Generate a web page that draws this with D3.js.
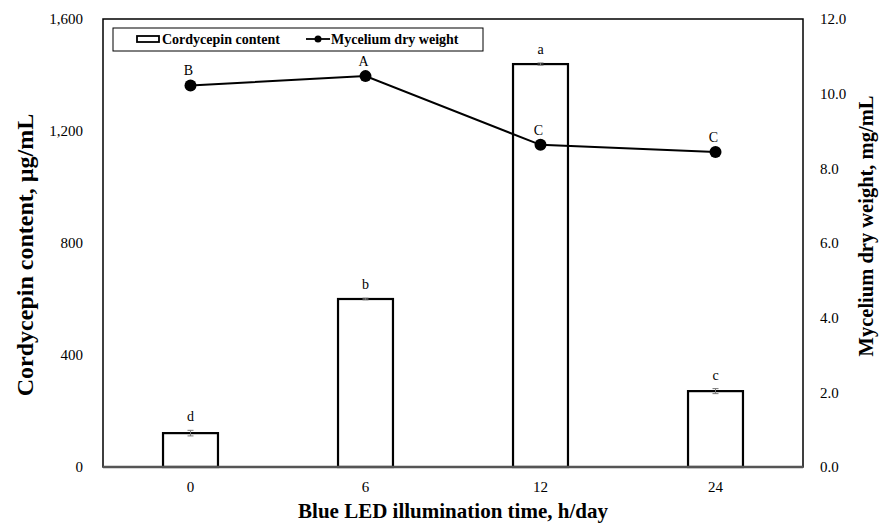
<!DOCTYPE html>
<html>
<head>
<meta charset="utf-8">
<script src="https://cdn.jsdelivr.net/npm/d3@7"></script>
<style>
  body { margin: 0; background: #fff; }
</style>
</head>
<body>
<div class="chart"></div>
<script>
var categories = ['0', '6', '12', '24'];
var cordycepin = [121, 600, 1439, 271];
var cordycepinErr = [10, 3, 4, 9];
var cordycepinLetters = ['d', 'b', 'a', 'c'];
var mycelium = [10.22, 10.47, 8.63, 8.44];
var myceliumErr = [0.05, 0.05, 0.12, 0.06];
var myceliumLetters = ['B', 'A', 'C', 'C'];
var leftTicks = [0, 400, 800, 1200, 1600];
var rightTicks = [0, 2, 4, 6, 8, 10, 12];

var FONT = "'Liberation Serif', 'Times New Roman', serif";

var svgWidth = 881;
var svgHeight = 527;
var margin = { top: 19, right: 78, bottom: 60, left: 103 };
var width = svgWidth - margin.left - margin.right;
var height = svgHeight - margin.top - margin.bottom;

var svg = d3.select('.chart')
  .append('svg')
  .attr('width', svgWidth)
  .attr('height', svgHeight)
  .attr('font-family', FONT);

var chart = svg.append('g')
  .attr('transform', 'translate(' + margin.left + ',' + margin.top + ')');

var x = d3.scaleBand().domain(categories).range([0, width]).paddingInner(0.686).paddingOuter(0.343);
var yL = d3.scaleLinear().domain([0, 1600]).range([height, 0]);
var yR = d3.scaleLinear().domain([0, 12]).range([height, 0]);

// bars
chart.selectAll('rect.bar')
  .data(cordycepin)
  .enter()
  .append('rect')
  .attr('class', 'bar')
  .attr('x', function(d, i) { return x(categories[i]); })
  .attr('y', function(d) { return yL(d); })
  .attr('width', x.bandwidth())
  .attr('height', function(d) { return height - yL(d); })
  .attr('fill', '#fff')
  .attr('stroke', '#000')
  .attr('stroke-width', 2.2);

// bar error bars + letters
cordycepin.forEach(function(d, i) {
  var cx = x(categories[i]) + x.bandwidth() / 2;
  var g = chart.append('g').attr('stroke', '#777').attr('stroke-width', 1);
  g.append('line').attr('x1', cx).attr('x2', cx).attr('y1', yL(d + cordycepinErr[i])).attr('y2', yL(d - cordycepinErr[i]));
  g.append('line').attr('x1', cx - 3).attr('x2', cx + 3).attr('y1', yL(d + cordycepinErr[i])).attr('y2', yL(d + cordycepinErr[i]));
  g.append('line').attr('x1', cx - 3).attr('x2', cx + 3).attr('y1', yL(d - cordycepinErr[i])).attr('y2', yL(d - cordycepinErr[i]));
  chart.append('text')
    .attr('x', cx)
    .attr('y', yL(d + cordycepinErr[i]) - 9)
    .attr('text-anchor', 'middle')
    .style('font-size', '14px')
    .text(cordycepinLetters[i]);
});

// frame
chart.append('rect')
  .attr('width', width)
  .attr('height', height)
  .attr('fill', 'none')
  .attr('stroke', '#000')
  .attr('stroke-width', 1.5);
chart.append('line')
  .attr('x1', 0).attr('x2', width)
  .attr('y1', height).attr('y2', height)
  .attr('stroke', '#555')
  .attr('stroke-width', 2.5);

// line series
var line = d3.line()
  .x(function(d, i) { return x(categories[i]) + x.bandwidth() / 2; })
  .y(function(d) { return yR(d); });

chart.append('path')
  .datum(mycelium)
  .attr('d', line)
  .attr('fill', 'none')
  .attr('stroke', '#000')
  .attr('stroke-width', 2);

mycelium.forEach(function(d, i) {
  var cx = x(categories[i]) + x.bandwidth() / 2;
  chart.append('line')
    .attr('x1', cx).attr('x2', cx)
    .attr('y1', yR(d + myceliumErr[i])).attr('y2', yR(d - myceliumErr[i]))
    .attr('stroke', '#555');
});

chart.selectAll('circle.pt')
  .data(mycelium)
  .enter()
  .append('circle')
  .attr('class', 'pt')
  .attr('cx', function(d, i) { return x(categories[i]) + x.bandwidth() / 2; })
  .attr('cy', function(d) { return yR(d); })
  .attr('r', 6)
  .attr('fill', '#000');

chart.selectAll('text.ptlabel')
  .data(mycelium)
  .enter()
  .append('text')
  .attr('class', 'ptlabel')
  .attr('x', function(d, i) { return x(categories[i]) + x.bandwidth() / 2 - 2; })
  .attr('y', function(d) { return yR(d) - 10; })
  .attr('text-anchor', 'middle')
  .style('font-size', '14px')
  .text(function(d, i) { return myceliumLetters[i]; });

// axes
var left = d3.axisLeft(yL).tickValues(leftTicks).tickSize(0).tickPadding(20).tickFormat(d3.format(','));
var right = d3.axisRight(yR).tickValues(rightTicks).tickSize(0).tickPadding(17).tickFormat(d3.format('.1f'));
var bottom = d3.axisBottom(x).tickSize(0).tickPadding(14);

chart.append('g').call(left).call(function(g) { g.select('.domain').remove(); })
  .selectAll('text').style('font-size', '15px');
chart.append('g').attr('transform', 'translate(' + width + ',0)').call(right)
  .call(function(g) { g.select('.domain').remove(); })
  .selectAll('text').style('font-size', '15px');
chart.append('g').attr('transform', 'translate(0,' + height + ')').call(bottom)
  .call(function(g) { g.select('.domain').remove(); })
  .selectAll('text').style('font-size', '15px');

// axis titles
svg.append('text')
  .attr('transform', 'translate(33,255) rotate(-90)')
  .attr('text-anchor', 'middle')
  .style('font-size', '24px')
  .style('font-weight', 'bold')
  .text('Cordycepin content, \u00b5g/mL');

svg.append('text')
  .attr('transform', 'translate(873,226) rotate(-90)')
  .attr('text-anchor', 'middle')
  .style('font-size', '20.5px')
  .style('font-weight', 'bold')
  .text('Mycelium dry weight, mg/mL');

svg.append('text')
  .attr('x', margin.left + width / 2)
  .attr('y', 518)
  .attr('text-anchor', 'middle')
  .style('font-size', '21px')
  .style('font-weight', 'bold')
  .text('Blue LED illumination time, h/day');

// legend
var legend = svg.append('g').attr('transform', 'translate(113,28)');
legend.append('rect')
  .attr('width', 370).attr('height', 23)
  .attr('fill', '#fff').attr('stroke', '#000').attr('stroke-width', 1);
legend.append('rect')
  .attr('x', 24).attr('y', 8).attr('width', 22).attr('height', 6)
  .attr('fill', '#fff').attr('stroke', '#000').attr('stroke-width', 1.8);
legend.append('text')
  .attr('x', 49).attr('y', 16)
  .style('font-size', '14px').style('font-weight', 'bold')
  .text('Cordycepin content');
legend.append('line')
  .attr('x1', 193).attr('x2', 217).attr('y1', 11).attr('y2', 11)
  .attr('stroke', '#000').attr('stroke-width', 1.8);
legend.append('circle')
  .attr('cx', 205).attr('cy', 11).attr('r', 3.5).attr('fill', '#000');
legend.append('text')
  .attr('x', 218).attr('y', 16)
  .style('font-size', '14px').style('font-weight', 'bold')
  .text('Mycelium dry weight');

svg.selectAll('text').style('font-family', FONT).attr('fill', '#000');
</script>
</body>
</html>
